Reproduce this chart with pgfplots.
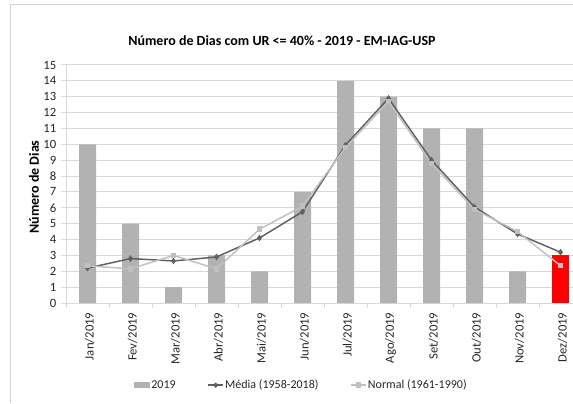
\documentclass[border=0pt]{standalone}
\usepackage{pgfplots}
\pgfplotsset{compat=1.18}
\usepackage{fontspec}
\setmainfont{Carlito}
\definecolor{barg}{RGB}{178,178,178}
\definecolor{media}{RGB}{96,96,96}
\definecolor{normal}{RGB}{192,192,192}
\definecolor{gridg}{RGB}{217,217,217}
\definecolor{bord}{RGB}{210,210,210}
\begin{document}
\begin{tikzpicture}[x=0.75pt,y=0.75pt]
\useasboundingbox (0,0) rectangle (573,403);
\draw[bord, line width=0.75pt] (10,0) -- (10,398) -- (590,398);
\node[font=\bfseries\fontsize{10.5}{12}\selectfont] at (282,362) {Número de Dias com UR <= 40\% - 2019 - EM-IAG-USP};
\node[font=\bfseries\fontsize{10.5}{12}\selectfont, rotate=90] at (34,216) {Número de Dias};
\begin{axis}[
  at={(49.5pt,75pt)}, anchor=south west,
  scale only axis, width=387pt, height=178.5pt,
  xmin=-0.5, xmax=11.5, ymin=0, ymax=15,
  ytick={0,...,15},
  xtick={0,...,11},
  xticklabels={Jan/2019,Fev/2019,Mar/2019,Abr/2019,Mai/2019,Jun/2019,Jul/2019,Ago/2019,Set/2019,Out/2019,Nov/2019,Dez/2019},
  minor xtick={-0.5,0.5,...,11.5},
  tick align=outside,
  major tick length=3.75pt, minor tick length=3.75pt,
  every major x tick/.style={draw=none},
  every minor x tick/.style={draw=gridg, line width=0.75pt},
  ytick style={draw=gridg, line width=0.75pt},
  axis x line*=bottom, axis y line*=left,
  axis line style={draw=gridg, line width=0.75pt},
  ymajorgrids, grid style={draw=gridg, line width=0.75pt},
  /pgf/number format/assume math mode=true,
  yticklabel style={font=\fontsize{9.5}{11}\selectfont, color=black!85},
  xticklabel style={font=\fontsize{9.5}{11}\selectfont, rotate=90, anchor=east, color=black!85, yshift=-1.5pt},
  legend style={at={(0.4554,-0.345)}, anchor=center, draw=none, fill=none,
    font=\fontsize{9}{11}\selectfont, text=black!85,
    nodes={inner xsep=1pt},
    /tikz/every even column/.append style={column sep=23pt}},
  legend columns=3,
  legend cell align=left,
]
\addplot[ybar, bar width=12.75pt, bar shift=0pt, fill=barg, draw=none,
  legend image code/.code={\fill[barg] (0pt,-2.2pt) rectangle (12pt,2.2pt);}]
  coordinates {(0,10) (1,5) (2,1) (3,3) (4,2) (5,7) (6,14) (7,13) (8,11) (9,11) (10,2)};
\addlegendentry{2019}
\addplot[ybar, bar width=12.75pt, bar shift=0pt, fill=red, draw=none, forget plot]
  coordinates {(11,3)};
\addplot[color=media, line width=1.1pt, mark=diamond*, mark size=1.6pt,
  legend image code/.code={\draw[media, line width=1.1pt] (0pt,0pt) -- (11pt,0pt); \fill[media] (5.5pt,0pt) circle (1.3pt);}]
  coordinates {(0,2.2) (1,2.8) (2,2.65) (3,2.9) (4,4.1) (5,5.75) (6,9.95) (7,12.9) (8,9.0) (9,6.05) (10,4.35) (11,3.2)};
\addlegendentry{Média (1958-2018)}
\addplot[color=normal, line width=1.1pt, mark=square*, mark size=1.5pt,
  legend image code/.code={\draw[normal, line width=1.1pt] (0pt,0pt) -- (11pt,0pt); \fill[normal] (4pt,-1.5pt) rectangle (7pt,1.5pt);}]
  coordinates {(0,2.35) (1,2.15) (2,3.0) (3,2.15) (4,4.65) (5,6.1) (6,9.8) (7,12.7) (8,8.8) (9,5.9) (10,4.5) (11,2.35)};
\addlegendentry{Normal (1961-1990)}
\end{axis}
\end{tikzpicture}
\end{document}
